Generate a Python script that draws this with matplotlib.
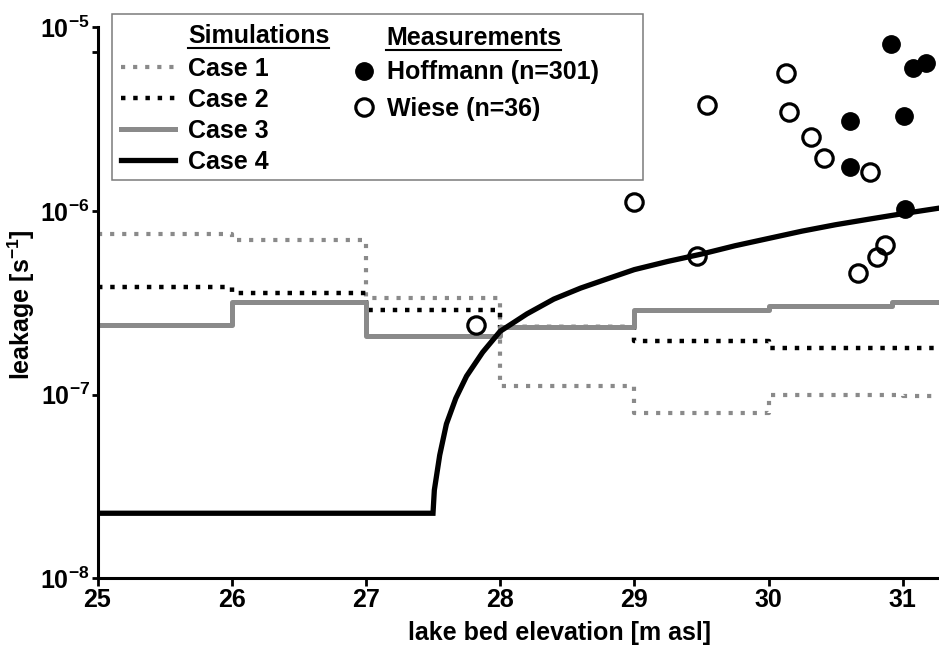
import matplotlib
matplotlib.use("Agg")
import matplotlib.pyplot as plt
from matplotlib.lines import Line2D
from matplotlib.patches import Rectangle
from matplotlib.ticker import FixedLocator, FuncFormatter, NullFormatter

plt.rcParams['font.family'] = ['Liberation Sans', 'DejaVu Sans']
plt.rcParams['font.weight'] = 'bold'
plt.rcParams['mathtext.fontset'] = 'custom'
plt.rcParams['mathtext.rm'] = 'Liberation Sans:bold'
plt.rcParams['mathtext.it'] = 'Liberation Sans:bold'
plt.rcParams['mathtext.bf'] = 'Liberation Sans:bold'
plt.rcParams['mathtext.default'] = 'rm'

# ---------------- data ----------------
case1_x = [25, 26, 27, 28, 29, 30, 31, 31.5]
case1_y = [7.53e-7, 6.93e-7, 3.35e-7, 1.12e-7, 7.9e-8, 1.0e-7, 9.8e-8, 9.8e-8]

case2_x = [25, 26, 27, 28, 29, 30, 31.5]
case2_y = [3.86e-7, 3.57e-7, 2.90e-7, 2.33e-7, 1.96e-7, 1.79e-7, 1.79e-7]

case3_x = [25, 26, 27, 28, 29, 30, 30.92, 31.5]
case3_y = [2.40e-7, 3.19e-7, 2.08e-7, 2.33e-7, 2.89e-7, 3.03e-7, 3.19e-7, 3.19e-7]

case4_x = [25.0, 27.50, 27.51, 27.55, 27.60, 27.67, 27.75, 27.87, 28.00, 28.20,
           28.40, 28.60, 28.80, 29.00, 29.25, 29.50, 29.75, 30.00, 30.25, 30.50,
           30.75, 31.00, 31.27]
case4_y = [2.26e-8, 2.26e-8, 3.02e-8, 4.68e-8, 6.92e-8, 9.55e-8, 1.26e-7, 1.70e-7,
           2.21e-7, 2.75e-7, 3.31e-7, 3.80e-7, 4.27e-7, 4.79e-7, 5.31e-7, 5.82e-7,
           6.46e-7, 7.08e-7, 7.76e-7, 8.41e-7, 9.02e-7, 9.66e-7, 1.035e-6]

hoff_x = [30.91, 31.08, 31.17, 30.61, 31.01, 30.61, 31.02]
hoff_y = [8.1e-6, 5.97e-6, 6.35e-6, 3.09e-6, 3.28e-6, 1.73e-6, 1.03e-6]

wiese_x = [30.13, 29.54, 30.15, 30.32, 30.41, 30.76, 29.00, 29.47, 30.67, 30.81, 30.87, 27.82]
wiese_y = [5.65e-6, 3.77e-6, 3.47e-6, 2.51e-6, 1.93e-6, 1.63e-6, 1.12e-6, 5.67e-7,
           4.61e-7, 5.61e-7, 6.5e-7, 2.38e-7]

case_labels = ["Case 1", "Case 2", "Case 3", "Case 4"]
meas_labels = ["Hoffmann (n=301)", "Wiese (n=36)"]
x_ticks = [25, 26, 27, 28, 29, 30, 31]
y_ticks = [1e-8, 1e-7, 1e-6, 1e-5]
extra_y_tick = [7.3e-6]

# ---------------- styles ----------------
GRAY = '#8a8a8a'
styles = [
    dict(color=GRAY, lw=3.0, linestyle=(0, (1.0, 1.9))),
    dict(color='black', lw=3.2, linestyle=(0, (1.0, 1.75))),
    dict(color=GRAY, lw=3.6, linestyle='-'),
    dict(color='black', lw=3.8, linestyle='-'),
]
hoff_style = dict(marker='o', ms=12.5, mfc='black', mec='black', mew=1.0, linestyle='none')
wiese_style = dict(marker='o', ms=12.5, mfc='none', mec='black', mew=2.3, linestyle='none')

W, H = 939, 646
fig = plt.figure(figsize=(W / 100, H / 100), dpi=100)
fig.patch.set_facecolor('white')

ax_left, ax_right = 97.5, 939.0
ax_top, ax_bot = 27.2, 578.3
ax = fig.add_axes([ax_left / W, 1 - ax_bot / H, (ax_right - ax_left) / W, (ax_bot - ax_top) / H])
ax.set_yscale('log')
ax.set_xlim(25, 25 + (ax_right - ax_left) / 134.2)
ax.set_ylim(1e-8, 1e-5)

ax.plot(case1_x, case1_y, drawstyle='steps-post', **styles[0])
ax.plot(case2_x, case2_y, drawstyle='steps-post', **styles[1])
ax.plot(case3_x, case3_y, drawstyle='steps-post', **styles[2])
ax.plot(case4_x, case4_y, solid_joinstyle='miter', **styles[3])
ax.plot(hoff_x, hoff_y, clip_on=False, **hoff_style)
ax.plot(wiese_x, wiese_y, **wiese_style)

for s in ['top', 'right']:
    ax.spines[s].set_visible(False)
for s in ['left', 'bottom']:
    ax.spines[s].set_linewidth(2.2)

ax.xaxis.set_major_locator(FixedLocator(x_ticks))
ax.xaxis.set_major_formatter(FuncFormatter(lambda v, p: f"{v:.0f}"))
ax.xaxis.set_minor_locator(FixedLocator([]))
ax.yaxis.set_major_locator(FixedLocator(y_ticks))
ax.yaxis.set_major_formatter(FuncFormatter(lambda v, p: r"$10^{%d}$" % round(__import__('math').log10(v))))
ax.yaxis.set_minor_locator(FixedLocator(extra_y_tick))
ax.yaxis.set_minor_formatter(NullFormatter())
ax.tick_params(axis='x', which='major', direction='out', length=5.5, width=2.0, pad=1.5, labelsize=18)
ax.tick_params(axis='y', which='major', direction='out', length=4.5, width=2.0, pad=1.0, labelsize=18)
ax.tick_params(axis='y', which='minor', direction='out', length=4.5, width=2.0)

ax.set_xlabel("lake bed elevation [m asl]", fontsize=18, fontweight='bold')
ax.xaxis.label.set_horizontalalignment('left')
ax.xaxis.label.set_verticalalignment('baseline')
ax.xaxis.set_label_coords((408 - ax_left) / (ax_right - ax_left), -(640 - ax_bot) / (ax_bot - ax_top))

ax.set_ylabel("leakage [s$^{-1}$]", fontsize=18, fontweight='bold')
ax.yaxis.set_label_coords(-(ax_left - 37) / (ax_right - ax_left), 1 - (305 - ax_top) / (ax_bot - ax_top))


def fx(x):
    return x / W


def fy(y):
    return 1 - y / H


# ---------------- legend (manual) ----------------
fig.patches.append(Rectangle((fx(111.7), fy(180)), (643.3 - 111.7) / W, (180 - 14) / H,
                             transform=fig.transFigure, facecolor='white',
                             edgecolor='#7a7a7a', lw=1.1, zorder=5))

sim_rows = [66.7, 97.7, 128.5, 160.0]
for lbl, st, yc in zip(case_labels, styles, sim_rows):
    fig.lines.append(Line2D([fx(121), fx(175)], [fy(yc), fy(yc)], transform=fig.transFigure,
                            zorder=6, **st))
    fig.text(fx(188), fy(yc + 9), lbl, fontsize=18, fontweight='bold', va='baseline', ha='left', zorder=6)

meas_rows = [70.5, 106.7]
for lbl, st, yc in zip(meas_labels, [hoff_style, wiese_style], meas_rows):
    fig.lines.append(Line2D([fx(364)], [fy(yc)], transform=fig.transFigure, zorder=6, **st))
    fig.text(fx(387), fy(yc + 9), lbl, fontsize=18, fontweight='bold', va='baseline', ha='left', zorder=6)

t1 = fig.text(fx(188), fy(43), "Simulations", fontsize=18, fontweight='bold', va='baseline', ha='left', zorder=6)
t2 = fig.text(fx(386), fy(45), "Measurements", fontsize=18, fontweight='bold', va='baseline', ha='left', zorder=6)
fig.canvas.draw()
r = fig.canvas.get_renderer()
for t, yl in [(t1, 47.5), (t2, 49.5)]:
    bb = t.get_window_extent(r)
    fig.lines.append(Line2D([bb.x0 / W, bb.x1 / W], [fy(yl), fy(yl)], transform=fig.transFigure,
                            color='black', lw=1.5, zorder=6))

fig.savefig("out.png", dpi=100, facecolor='white')
